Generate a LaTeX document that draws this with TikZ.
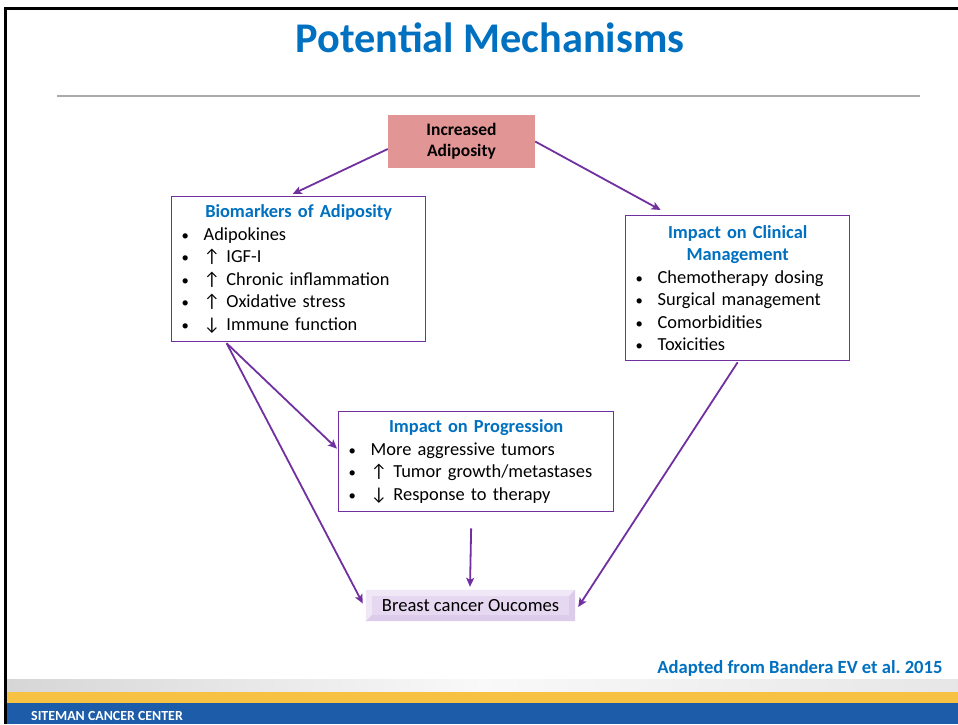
\documentclass[tikz,border=0pt]{standalone}
\usepackage{fontspec}
\setmainfont{Carlito}
\usetikzlibrary{arrows.meta,calc}
\frenchspacing

\definecolor{linkpurple}{HTML}{7030A0}
\definecolor{headblue}{HTML}{0070C0}
\definecolor{rosefill}{HTML}{E29595}
\definecolor{rulegray}{HTML}{AAAAAA}
\definecolor{lilac}{HTML}{E6D8F0}
\definecolor{lilacdark}{HTML}{DCCBEA}
\definecolor{lilaclight}{HTML}{F0E8F6}
\definecolor{bandyellow}{HTML}{F7C244}
\definecolor{bandblue}{HTML}{1C5CA8}
\definecolor{bandgray}{HTML}{D6D6D6}

% one bulleted line inside a box
\newcommand{\bitem}[1]{\par\noindent\makebox[22pt][l]{\scalebox{0.8}{\textbullet}}#1}
\newcommand{\boxhead}[1]{{\centering\color{headblue}\bfseries #1\par}}

\tikzset{
  infobox/.style={draw=linkpurple, line width=1.3pt, fill=white, anchor=north west,
    inner xsep=0pt, inner ysep=0pt, align=left,
    font=\fontsize{18.4}{22.5}\selectfont},
  link/.style={draw=linkpurple, line width=1.8pt,
    -{Stealth[length=9pt,width=8pt,inset=2pt]}},
}

\begin{document}
\begin{tikzpicture}[x=1pt,y=-1pt]
\useasboundingbox (0,0) rectangle (958,724);
\fill[white] (0,0) rectangle (958,724);

% slide frame
\draw[line width=3pt] (5.5,724) -- (5.5,8.5) -- (958,8.5);

% title and rule
\node[headblue, font=\fontsize{42.3}{46}\bfseries\selectfont] (title) at (490,38) {Potential Mechanisms};
\draw[rulegray, line width=2.5pt] (57,96) -- (920,96);

% source box
\node[fill=rosefill, minimum width=147pt, minimum height=53pt, inner sep=0pt,
      align=center, font=\fontsize{17.5}{22}\bfseries\selectfont] (inc) at (461.5,141.5)
      {\raisebox{-3pt}{\begin{tabular}{@{}c@{}}Increased\\[-1pt]Adiposity\end{tabular}}};

% biomarkers
\node[infobox, minimum width=254pt, minimum height=145pt, text width=254pt] (bio) at (171,196)
  {\boxhead{Biomarkers of Adiposity}%
   \leftskip=10pt
   \bitem{Adipokines}
   \bitem{↑ IGF-I}
   \bitem{↑ Chronic inflammation}
   \bitem{↑ Oxidative stress}
   \bitem{↓ Immune function}\par};

% clinical management
\node[infobox, minimum width=224pt, minimum height=145pt, text width=224pt] (clin) at (625,215)
  {\boxhead{Impact on Clinical\\Management}%
   \leftskip=10pt
   \bitem{Chemotherapy dosing}
   \bitem{Surgical management}
   \bitem{Comorbidities}
   \bitem{Toxicities}\par};

% progression
\node[infobox, minimum width=275pt, minimum height=100pt, text width=275pt] (prog) at (338,411)
  {\boxhead{Impact on Progression}%
   \leftskip=10pt
   \bitem{More aggressive tumors}
   \bitem{↑ Tumor growth/metastases}
   \bitem{↓ Response to therapy}\par};

% outcome box with bevelled edges
\node[fill=lilac, minimum width=209pt, minimum height=31pt, inner sep=0pt] (out) at (470.5,605.5) {};
\fill[lilaclight] (out.north west) -- (out.north east) -- ++(-6,6) -- ($(out.north west)+(6,6)$) -- cycle;
\fill[lilaclight] (out.north west) -- (out.south west) -- ++(6,-6) -- ($(out.north west)+(6,6)$) -- cycle;
\fill[lilacdark] (out.south west) -- (out.south east) -- ++(-6,-6) -- ($(out.south west)+(6,-6)$) -- cycle;
\fill[lilacdark] (out.north east) -- (out.south east) -- ++(-6,-6) -- ($(out.north east)+(-6,6)$) -- cycle;
\node[font=\fontsize{18.6}{20}\selectfont, inner sep=0pt] (outtext) at (out.center) {Breast cancer Oucomes};

% connectors
\coordinate (incL) at ($(inc.west)+(0,7.5)$);
\coordinate (bioTop) at ($(bio.north)+(-6,-2)$);
\coordinate (clinTop) at ($(clin.north)+(-77,-5)$);
\coordinate (bioFoot) at ($(bio.south)+(-72,1)$);
\coordinate (progL) at ($(prog.west)+(-1,-13)$);
\coordinate (outL) at ($(out.west)+(-3,-2)$);
\coordinate (outR) at ($(out.east)+(3,1.5)$);
\coordinate (progFoot) at ($(prog.south)+(-5,16)$);
\coordinate (outTop) at ($(out.north)+(-0.5,-3)$);

\draw[link] (incL) -- (bioTop);
\draw[link] (inc.east) -- (clinTop);
\draw[link] (bioFoot) -- (progL);
\draw[link] (bioFoot) -- (outL);
\draw[link] ($(clin.south)+(0,1)$) -- (outR);
\draw[link] (progFoot) -- (outTop);

% citation
\node[headblue, anchor=east, font=\fontsize{18.6}{20}\bfseries\selectfont] (cite) at (946,668)
  {Adapted from Bandera EV et al. 2015};

% footer bands
\shade[left color=bandgray, right color=bandgray!60, middle color=white!85!bandgray] (7,679) rectangle (958,692);
\fill[bandyellow] (7,692) rectangle (958,703);
\fill[bandblue] (7,703) rectangle (958,724);
\node[white, anchor=west, font=\fontsize{13.9}{14}\bfseries\selectfont, inner sep=0pt] (brand) at (31,716)
  {SITEMAN CANCER CENTER};
\draw[line width=3pt] (5.5,679) -- (5.5,724);
\end{tikzpicture}
\end{document}
